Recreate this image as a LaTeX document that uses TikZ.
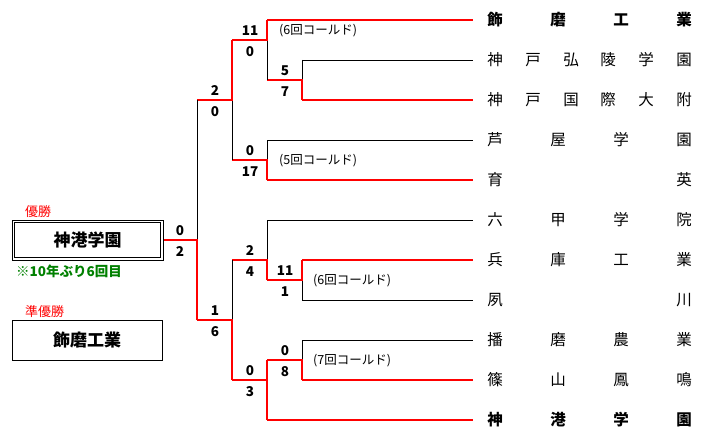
\documentclass[tikz,border=0pt]{standalone}
\usepackage{fontspec}
\setmainfont{Noto Sans CJK JP}
\begin{document}
\begin{tikzpicture}[x=1pt,y=-1pt,
  bk/.style={black,line width=0.8pt},
  rd/.style={red,line width=2pt},
  sc/.style={font=\fontsize{13.5}{13.5}\selectfont\bfseries,inner sep=0pt},
  tm/.style={font=\fontsize{15.5}{15.5}\selectfont,inner sep=0pt},
  tb/.style={font=\fontsize{15.5}{15.5}\selectfont\bfseries,inner sep=0pt},
  bx/.style={font=\fontsize{17}{17}\selectfont\bfseries,inner sep=0pt},
  cd/.style={font=\fontsize{12.5}{12.5}\selectfont,inner sep=0pt,anchor=west},
  lab/.style={font=\fontsize{13}{13}\selectfont,red,inner sep=0pt,anchor=west}]
\useasboundingbox (0,0) rectangle (717,441);
% team rows
\foreach \y/\x/\s in {20/267/rd,60/302/bk,100/302/rd,140/267/bk,180/267/rd,220/267/bk,260/302/rd,300/302/bk,340/302/bk,380/302/rd,420/267/rd}
  \draw[\s] (\x,\y) -- (473,\y);
% top half
\draw[bk] (302,60) -- (302,80);
\draw[rd] (302,100) -- (302,80) -- (267,80);
\draw[bk] (267,80) -- (267,40);
\draw[rd] (267,20) -- (267,40) -- (232,40);
\draw[bk] (267,140) -- (267,160);
\draw[rd] (267,180) -- (267,160) -- (232,160);
\draw[bk] (232,160) -- (232,100);
\draw[rd] (232,40) -- (232,100) -- (197,100);
\draw[bk] (197,100) -- (197,240);
% bottom half
\draw[bk] (302,300) -- (302,280);
\draw[rd] (302,260) -- (302,280) -- (267,280);
\draw[bk] (267,220) -- (267,260);
\draw[rd] (267,280) -- (267,260) -- (232,260);
\draw[bk] (302,340) -- (302,360);
\draw[rd] (302,380) -- (302,360) -- (267,360);
\draw[rd] (267,360) -- (267,420);
\draw[rd] (267,380) -- (232,380);
\draw[bk] (232,260) -- (232,320);
\draw[rd] (232,380) -- (232,320) -- (197,320);
\draw[rd] (197,320) -- (197,240) -- (163,240);
% scores
\foreach \x/\y/\a/\b in {285/80/5/7,250/40/11/0,250/160/0/17,215/100/2/0,180/240/0/2,285/280/11/1,250/260/2/4,285/360/0/8,250/380/0/3,215/320/1/6}{
  \node[sc] at (\x,\y-9) {\a};
  \node[sc] at (\x,\y+12) {\b};
}
\node[cd] at (279,31) {(6回コールド)};
\node[cd] at (279,161) {(5回コールド)};
\node[cd] at (313,281) {(6回コールド)};
\node[cd] at (313,361) {(7回コールド)};
% team names
\foreach \y/\a/\b/\c/\d in {140/芦/屋/学/園,220/六/甲/学/院,260/兵/庫/工/業,340/播/磨/農/業,380/篠/山/鳳/鳴}{
  \node[tm] at (495,\y) {\a}; \node[tm] at (558,\y) {\b};
  \node[tm] at (621,\y) {\c}; \node[tm] at (684,\y) {\d};
}
\foreach \y/\a/\b/\c/\d in {20/飾/磨/工/業,420/神/港/学/園}{
  \node[tb] at (495,\y) {\a}; \node[tb] at (558,\y) {\b};
  \node[tb] at (621,\y) {\c}; \node[tb] at (684,\y) {\d};
}
\foreach \y/\a/\b/\c/\d/\e/\f in {60/神/戸/弘/陵/学/園,100/神/戸/国/際/大/附}{
  \node[tm] at (495,\y) {\a}; \node[tm] at (533,\y) {\b};
  \node[tm] at (571,\y) {\c}; \node[tm] at (608,\y) {\d};
  \node[tm] at (646,\y) {\e}; \node[tm] at (684,\y) {\f};
}
\node[tm] at (495,180) {育}; \node[tm] at (684,180) {英};
\node[tm] at (495,300) {夙}; \node[tm] at (684,300) {川};
% winners
\node[lab] (yu) at (25,212) {優勝};
\draw[bk] (12,220) rectangle (163,260);
\draw[bk] (14.5,222.5) rectangle (160.5,257.5);
\node[bx] (w) at (87.5,240) {神港学園};
\node[font=\fontsize{13.5}{13.5}\selectfont\bfseries,text={rgb,255:red,0;green,128;blue,0},inner sep=0pt,anchor=west] at (16,271) {※10年ぶり6回目};
\node[lab] at (25,312) {準優勝};
\draw[bk] (12,320) rectangle (162,360);
\node[bx] (r) at (87,340) {飾磨工業};
\end{tikzpicture}
\end{document}
